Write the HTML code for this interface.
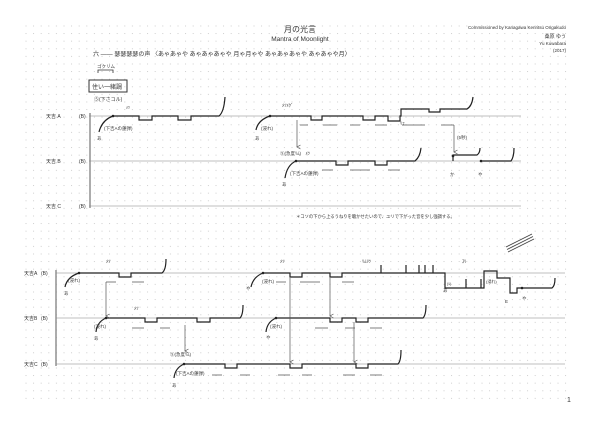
<!DOCTYPE html>
<html><head><meta charset="utf-8"><style>
html,body{margin:0;padding:0;background:#fff;}
svg{display:block;}
text{font-family:"Liberation Sans","Noto Sans CJK JP",sans-serif;fill:#333;}
</style></head><body>
<svg width="600" height="424" viewBox="0 0 600 424" xmlns="http://www.w3.org/2000/svg">
<defs>
<pattern id="g" x="25" y="25" width="7.6" height="7.6" patternUnits="userSpaceOnUse">
<circle cx="1" cy="1" r="0.55" fill="#c4c4c4"/></pattern>
<marker id="ar" markerWidth="5" markerHeight="5" refX="2.5" refY="4.5" orient="auto-start-reverse" markerUnits="userSpaceOnUse"><path d="M0.5,1 L2.5,4.5 L4.5,1" fill="none" stroke="#555" stroke-width="0.7"/></marker>
</defs>
<rect x="25" y="25" width="545" height="380" fill="url(#g)"/>

<text x="300" y="32" font-size="8" text-anchor="middle" fill="#222">月の光言</text>
<text x="300" y="41" font-size="6.5" text-anchor="middle" fill="#222">Mantra of Moonlight</text>
<text x="566" y="29" font-size="4.5" text-anchor="end" fill="#999">Commissioned by Kanagawa Kenritsu Ongakudo</text>
<text x="566" y="38" font-size="5" text-anchor="end">桑原 ゆう</text>
<text x="566" y="45" font-size="4.5" text-anchor="end">Yu Kuwabara</text>
<text x="566" y="52" font-size="4.5" text-anchor="end">(2017)</text>
<text x="93" y="56" font-size="6" fill="#444">六 ―― 瑟瑟瑟瑟の声 〈あゃあゃや あゃあゃあゃや 月ゃ月ゃや あゃあゃあゃや あゃあゃや月〉</text>
<text x="97" y="68" font-size="4.5">ゴクリム</text>
<path d="M98,73 V70 H113 V73" fill="none" stroke="#333" stroke-width="0.8"/>
<rect x="89" y="80" width="38" height="12" fill="none" stroke="#333" stroke-width="1"/>
<text x="92" y="89" font-size="6">住い一緒調</text>
<text x="94" y="101" font-size="5">⑤(下さコル)</text>
<text x="126" y="109" font-size="4">ﾒﾂ</text>

<g stroke="#aaa" stroke-width="0.8">
<line x1="89" y1="116" x2="521" y2="116"/><line x1="89" y1="161" x2="521" y2="161"/><line x1="89" y1="206" x2="521" y2="206"/>
<line x1="56" y1="273" x2="565" y2="273"/><line x1="56" y1="318" x2="565" y2="318"/><line x1="56" y1="364" x2="565" y2="364"/>
</g>
<g stroke="#888" stroke-width="1.4"><line x1="90" y1="113" x2="90" y2="208"/><line x1="56" y1="270" x2="56" y2="366"/></g>
<g font-size="5">
<text x="46" y="118">天吉 A</text><text x="79" y="118">(B)</text>
<text x="46" y="163">天吉 B</text><text x="79" y="163">(B)</text>
<text x="46" y="208">天吉 C</text><text x="79" y="208">(B)</text>
<text x="24" y="275">天吉A</text><text x="41" y="275">(B)</text>
<text x="24" y="320">天吉B</text><text x="41" y="320">(B)</text>
<text x="24" y="366">天吉C</text><text x="41" y="366">(B)</text>
</g>

<g fill="none" stroke="#222" stroke-width="1.2">
<!-- system 1 A -->
<path d="M113,116 H139 V120 H152 V116 H178 V120 H191 V116 H219 Q224,112 225,97"/>
<path d="M113,116 Q102,120 99,132"/>
<path d="M270,116 H311 V120 H322 V116 H363 V120 H375 V116 H388 V121 H400 V116 H401 V109 H429 V112 H440 V109 H467 Q472,106 473,97"/>
<path d="M270,116 Q258,120 256,130"/>
<!-- B -->
<path d="M296,161 H336 V165 H348 V161 H375 V165 H387 V161 H415 Q420,157 421,148"/>
<path d="M296,161 Q287,165 285,178"/>
<path d="M453,161 V155 H477 Q480,153 480,148"/>
<path d="M481,161 H511 Q514,157 514,148"/>
<!-- system 2 A -->
<path d="M79,273 H119 V277 H131 V273 H162 Q166,270 166,259"/>
<path d="M79,273 Q67,277 65,287"/>
<path d="M263,273 H290 V277 H302 V273 H330 V277 H342 V273 H381 V265 V273 H406 V265 V273 H419 V265 V273 H425 V265 V273 H433 V265 V273 H445 V288 H466 V279 V288 H481 V279 V288 H484 V271 H497 V278 H510 V293 H517 V288 H552 Q555,286 555,278"/>
<path d="M263,273 Q253,277 251,287"/>
<!-- B2 -->
<path d="M106,318 H145 V322 H157 V318 H197 V322 H210 V318 H240 Q243,315 243,305"/>
<path d="M106,318 Q97,322 96,332"/>
<path d="M276,318 H330 V322 H342 V318 H356 V322 H368 V318 H423 Q426,315 426,305"/>
<path d="M276,318 Q267,322 266,332"/>
<!-- C2 -->
<path d="M184,364 H225 V368 H237 V364 H290 V368 H302 V364 H356 V368 H368 V364 H398 Q401,361 401,350"/>
<path d="M184,364 Q175,368 174,378"/>
</g>
<g fill="#222"><circle cx="113" cy="116" r="1.3"/><circle cx="270" cy="116" r="1.3"/><circle cx="296" cy="161" r="1.3"/><circle cx="481" cy="161" r="1.3"/><circle cx="453" cy="156" r="1.3"/><circle cx="79" cy="273" r="1.3"/><circle cx="263" cy="273" r="1.3"/><circle cx="106" cy="318" r="1.3"/><circle cx="276" cy="318" r="1.3"/><circle cx="184" cy="364" r="1.3"/><circle cx="522" cy="288" r="1.3"/></g>

<!-- hairpins -->
<g stroke="#555" stroke-width="0.7">
<path d="M300,125 H308 M323,125 H337 M350,125 H360 M375,125 H387 M402,125 H425 M441,125 H454"/>
<path d="M322,170 H333 M350,170 H370 M388,170 H400"/>
<path d="M106,282 H116 M132,282 H144 M276,282 H286 M300,282 H320 M342,282 H354"/>
<path d="M132,328 H144 M160,328 H170 M315,328 H328 M345,328 H355 M370,328 H382"/>
<path d="M212,375 H222 M240,375 H250 M278,375 H290 M302,375 H312 M343,375 H355 M370,375 H382"/>
</g>
<g stroke="#555" stroke-width="0.7" fill="none">
<line x1="297" y1="120" x2="297" y2="147" marker-end="url(#ar)"/>
<line x1="454" y1="125" x2="454" y2="152" marker-end="url(#ar)"/>
<line x1="106" y1="282" x2="106" y2="316" marker-end="url(#ar)"/>
<line x1="290" y1="278" x2="290" y2="362" marker-end="url(#ar)"/>
<line x1="330" y1="278" x2="330" y2="316" marker-end="url(#ar)"/>
<line x1="185" y1="325" x2="185" y2="351" marker-end="url(#ar)"/>
<line x1="354" y1="322" x2="354" y2="362" marker-end="url(#ar)"/>
</g>

<g font-size="4.5">
<text x="104" y="130">(下吉Aの蓮弾)</text><text x="97" y="140">あ</text>
<text x="261" y="130">(浸れ)</text><text x="255" y="140">あ</text>
<text x="282" y="107">ﾒﾂﾒｸﾞ</text>
<text x="457" y="139">(5秒)</text>
<text x="280" y="155">⑤(急度ﾘﾑ)　ﾒﾂ</text>
<text x="290" y="175">(下吉Aの蓮弾)</text><text x="282" y="186">あ</text>
<text x="450" y="176">か</text><text x="478" y="176">や</text>
<text x="400" y="125">ﾘﾌ</text>
<text x="296" y="218" font-size="4.3">＊コソの下から上るうねりを聴かせたいので、ユリで下がった音を少し強調する。</text>
<text x="106" y="263">ﾒﾂ</text><text x="68" y="282">(浸れ)</text><text x="64" y="295">あ</text>
<text x="280" y="263">ﾒﾂ</text><text x="362" y="263">ﾘﾑﾘﾂ</text><text x="462" y="263">ｽﾘ</text>
<text x="262" y="283">(浸れ)</text><text x="246" y="290">や</text>
<text x="134" y="310">ﾒﾂ</text><text x="94" y="328">(浸れ)</text><text x="94" y="340">あ</text>
<text x="270" y="328">(浸れ)</text><text x="266" y="339">や</text>
<text x="170" y="356">⑤(急度ﾘﾑ)</text>
<text x="176" y="375">(下吉Aの蓮弾)</text><text x="172" y="387">あ</text>
<text x="443" y="292">あ</text><text x="447" y="285" font-size="3.5">(ﾙ)</text>
<text x="486" y="283" font-size="4">(浸れ)</text><text x="505" y="303">E</text><text x="522" y="300">や</text>
</g>
<g stroke="#444" stroke-width="0.9"><line x1="506" y1="247" x2="532" y2="234"/><line x1="507" y1="249.5" x2="533" y2="236.5"/><line x1="508" y1="252" x2="534" y2="239"/></g>
<text x="567" y="402" font-size="7" fill="#222">1</text>
</svg>
</body></html>
